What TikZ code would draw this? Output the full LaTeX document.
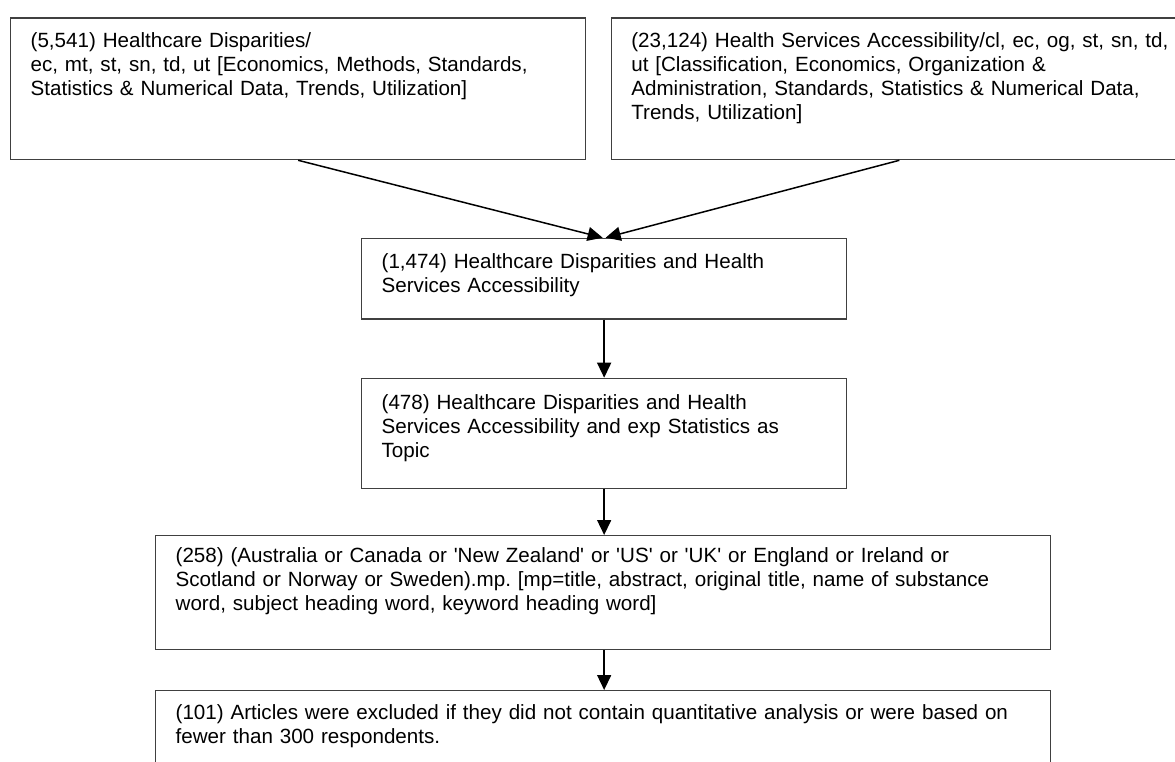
\documentclass[tikz,border=0pt]{standalone}
\usepackage{fontspec}
\setmainfont{Liberation Sans}
\usetikzlibrary{arrows.meta}

\tikzset{
  stage/.style={draw=black!75, line width=1.3pt, anchor=north west, align=left,
    inner xsep=20pt, inner ysep=0pt, font=\fontsize{20.6}{24}\selectfont\frenchspacing},
  flow/.style={line width=1.5pt, -{Triangle[length=15pt,width=14pt]}}
}

\begin{document}
\begin{tikzpicture}[x=1pt,y=-1pt]
\useasboundingbox (0,0) rectangle (1175,762);
\node [stage, text width=535pt, text height=29.5pt, text depth=112pt] (hd) at (10,17.5)
  {(5,541) Healthcare Disparities/\\ec, mt, st, sn, td, ut [Economics, Methods, Standards,\\Statistics \& Numerical Data, Trends, Utilization]};
\node [stage, text width=556pt, text height=29.5pt, text depth=112pt] (hsa) at (610.7,17.5)
  {(23,124) Health Services Accessibility/cl, ec, og, st, sn, td,\\ut [Classification, Economics, Organization \&\\Administration, Standards, Statistics \& Numerical Data,\\Trends, Utilization]};
\node [stage, text width=445pt, text height=30.5pt, text depth=50pt] (both) at (361,237.7)
  {(1,474) Healthcare Disparities and Health\\Services Accessibility};
\node [stage, text width=445pt, text height=31pt, text depth=79pt] (stat) at (361,377.7)
  {(478) Healthcare Disparities and Health\\Services Accessibility and exp Statistics as\\Topic};
\node [stage, text width=855pt, text height=27pt, text depth=86.7pt] (country) at (155,535)
  {(258) (Australia or Canada or \textquotesingle New Zealand\textquotesingle\ or \textquotesingle US\textquotesingle\ or \textquotesingle UK\textquotesingle\ or England or Ireland or\\Scotland or Norway or Sweden).mp. [mp=title, abstract, original title, name of substance\\word, subject heading word, keyword heading word]};
\node [stage, text width=855pt, text height=29pt, text depth=100pt] (excl) at (155,690)
  {(101) Articles were excluded if they did not contain quantitative analysis or were based on\\fewer than 300 respondents.};
% two searches meet in one set
\draw [flow] (hd.south) -- ([xshift=-1.5pt]both.north);
\draw [flow] ([xshift=-10pt]hsa.south) -- ([xshift=1.5pt]both.north);
\draw [flow] (both.south) -- (stat.north);
\draw [flow] (stat.south) -- (country.north -| stat.south);
\draw [flow] (country.south -| stat.south) -- (excl.north -| stat.south);
\end{tikzpicture}
\end{document}
